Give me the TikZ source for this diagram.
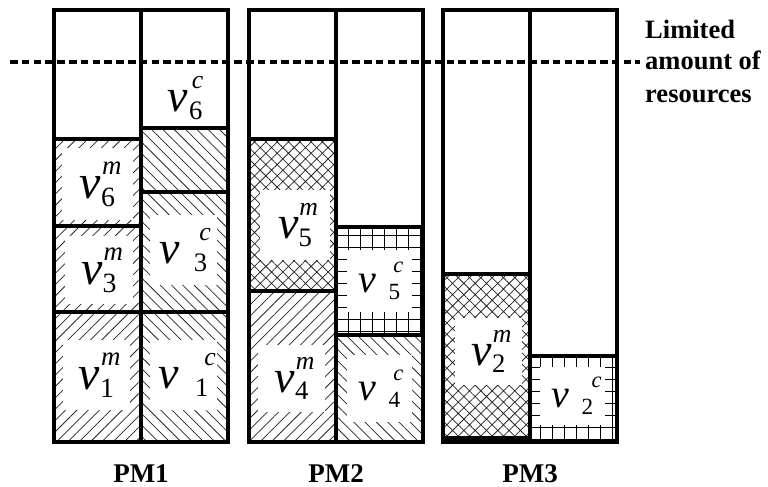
\documentclass[tikz,border=0pt]{standalone}
\usepackage{fontspec}
\setmainfont{Liberation Serif}
\usetikzlibrary{patterns.meta}
\newcommand{\vl}[5]{{\fontsize{#1}{#1}\selectfont\textit{v}\hspace{#4em}\makebox[0pt][l]{\hspace{#5em}\raisebox{.5em}{\fontsize{\fpeval{0.56*#1}}{1}\selectfont\textit{#2}}}\raisebox{-.17em}{\fontsize{\fpeval{0.58*#1}}{1}\selectfont #3}}}
\tikzset{
  frame/.style={line width=3.2pt},
  cell/.style={line width=3.2pt},
  ne/.style={pattern={Lines[angle=45,distance=8pt,line width=0.75pt]},pattern color=black!85},
  nw/.style={pattern={Lines[angle=-45,distance=8pt,line width=0.75pt]},pattern color=black!85},
  xh/.style={pattern={Hatch[angle=45,distance=8pt,line width=0.75pt]},pattern color=black!85},
  gr/.style={pattern={Hatch[angle=0,distance=12pt,line width=0.9pt]},pattern color=black},
  wbox/.style={fill=white,inner sep=0pt,anchor=center},
  pmlab/.style={font=\fontsize{27}{27}\selectfont\bfseries,anchor=base},
  limlab/.style={font=\fontsize{26.5}{26.5}\selectfont\bfseries,anchor=base west,inner sep=0pt},
}
\begin{document}
\begin{tikzpicture}[x=1pt,y=-1pt]
\useasboundingbox (0,0) rectangle (768,487);
% PM1 blocks
\path[ne,draw,cell] (54,139) rectangle (141,226);
\path[ne,draw,cell] (54,226) rectangle (141,312);
\path[ne,draw,cell] (54,312) rectangle (141,442);
\path[nw,draw,cell] (141,128) rectangle (228,192);
\path[nw,draw,cell] (141,192) rectangle (228,312);
\path[nw,draw,cell] (141,312) rectangle (228,442);
% PM2 blocks
\path[xh,draw,cell] (249,139) rectangle (336,291);
\path[ne,draw,cell] (249,291) rectangle (336,442);
\path[gr,draw,cell] (336,227) rectangle (423,335);
\path[nw,draw,cell] (336,335) rectangle (423,442);
% PM3 blocks
\path[xh,draw,cell] (443,274) rectangle (530,438);
\path[gr,draw,cell] (530,356) rectangle (617,442);
% labels
\node[wbox,minimum width=71pt,minimum height=72pt] (v6m) at (97.5,184) {\vl{48}{m}{6}{0}{0.02}};
\node[wbox,minimum width=68pt,minimum height=68pt] (v3m) at (99,270) {\vl{48}{m}{3}{0}{0.02}};
\node[wbox,minimum width=67pt,minimum height=70pt] (v1m) at (96.5,375) {\vl{48}{m}{1}{0}{0.02}};
\node[inner sep=0pt] (v6c) at (185,98) {\vl{46}{c}{6}{0.03}{0.06}};
\node[wbox,minimum width=67pt,minimum height=70pt] (v3c) at (183.5,250) {\vl{46}{c}{3}{0.3}{0.12}};
\node[wbox,minimum width=67pt,minimum height=70pt] (v1c) at (183.5,375) {\vl{46}{c}{1}{0.35}{0.2}};
\node[wbox,minimum width=70pt,minimum height=70pt] (v5m) at (295,225) {\vl{46}{m}{5}{0}{0.02}};
\node[wbox,minimum width=67pt,minimum height=67pt] (v4m) at (291.5,378.5) {\vl{46}{m}{4}{0}{0.02}};
\node[wbox,minimum width=65pt,minimum height=62pt] (v5c) at (379.5,281) {\vl{40}{c}{5}{0.3}{0.12}};
\node[wbox,minimum width=65pt,minimum height=67pt] (v4c) at (379.5,388.5) {\vl{40}{c}{4}{0.3}{0.12}};
\node[wbox,minimum width=67pt,minimum height=67pt] (v2m) at (488.5,351.5) {\vl{46}{m}{2}{0}{0.02}};
\node[wbox,minimum width=65pt,minimum height=58pt] (v2c) at (572.5,396) {\vl{40}{c}{2}{0.3}{0.25}};
% frames
\draw[frame] (54,10) rectangle (228,442) (141,10) -- (141,442);
\draw[frame] (249,10) rectangle (423,442) (336,10) -- (336,442);
\draw[frame] (443,10) rectangle (617,442) (530,10) -- (530,442);
% dashed limit
\coordinate (dl) at (10,62);
\coordinate (dr) at (640,62);
\draw[line width=3.2pt,dash pattern=on 7.5pt off 4.3pt] (dl) -- (dr);
\node[limlab] (l1) at (645,38) {Limited};
\node[limlab] (l2) at (645,70) {amount of};
\node[limlab] (l3) at (645,102) {resources};
\node[pmlab] (pm1) at (141,482) {PM1};
\node[pmlab] (pm2) at (336,482) {PM2};
\node[pmlab] (pm3) at (530,482) {PM3};
\end{tikzpicture}
\end{document}
